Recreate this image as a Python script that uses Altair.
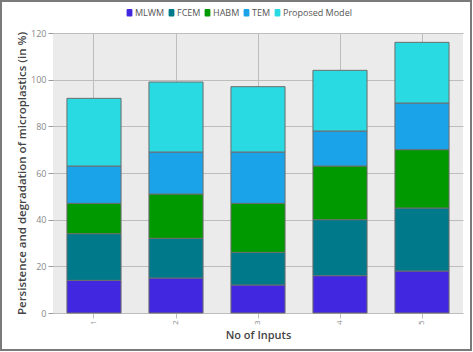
import altair as alt
import pandas as pd

inputs = ["1", "2", "3", "4", "5"]
series = ["MLWM", "FCEM", "HABM", "TEM", "Proposed Model"]
mlwm = [14, 15, 12, 16, 18]
fcem = [20, 17, 14, 24, 27]
habm = [13, 19, 21, 23, 25]
tem = [16, 18, 22, 15, 20]
proposed = [29, 30, 28, 26, 26]
colors = ["#4127e0", "#007a8a", "#009900", "#1aa3e8", "#2adae2"]

rows = []
for s_i, (name, vals) in enumerate(zip(series, [mlwm, fcem, habm, tem, proposed])):
    for x, v in zip(inputs, vals):
        rows.append({"input": x, "series": name, "value": v, "order": s_i})
df = pd.DataFrame(rows)

font = "Open Sans"
rounded = "M-0.45,-1H0.45Q0.75,-1,0.75,-0.7V0.7Q0.75,1,0.45,1H-0.45Q-0.75,1,-0.75,0.7V-0.7Q-0.75,-1,-0.45,-1Z"

bars = alt.Chart(df).mark_bar(stroke="#6e6e6e", strokeWidth=1).encode(
    x=alt.X("input:N", sort=inputs, title="No of Inputs",
            scale=alt.Scale(paddingInner=0.34, paddingOuter=0.17),
            axis=alt.Axis(labelAngle=-90, labelFontSize=8, labelColor="#888",
                          titleFontSize=11, titleColor="#444", titleFontWeight=600,
                          grid=True, gridColor="#bdbdbd", tickColor="#bdbdbd",
                          domain=False, titlePadding=5)),
    y=alt.Y("value:Q", stack="zero", title="Persistence and degradation of microplastics (in %)",
            scale=alt.Scale(domain=[0, 120]),
            axis=alt.Axis(values=[0, 20, 40, 60, 80, 100, 120], labelFontSize=9, labelColor="#888",
                          titleFontSize=11.5, titleColor="#444", titleFontWeight=600,
                          gridColor="#bdbdbd", tickColor="#999", domain=False, titlePadding=3)),
    color=alt.Color("series:N", sort=series, scale=alt.Scale(domain=series, range=colors),
                    legend=alt.Legend(title=None, orient="none", direction="horizontal",
                                      legendX=72, legendY=-25, symbolType=rounded,
                                      symbolSize=60, symbolStrokeWidth=0, labelFontSize=9,
                                      labelColor="#555", columnPadding=2, symbolOffset=0,
                                      labelOffset=1)),
    order=alt.Order("order:Q"),
)

frame = alt.Chart(pd.DataFrame({"a": [0]})).mark_rect(
    fill=None, stroke="#7a7a7a", strokeWidth=2, clip=False
).encode(
    x=alt.value(-52), x2=alt.value(418), y=alt.value(-32), y2=alt.value(317)
)

chart = alt.layer(bars, frame).properties(
    width=410, height=280,
    autosize=alt.AutoSizeParams(type="none"),
    padding={"left": 53, "top": 33, "right": 10, "bottom": 39},
).configure(font=font, background="white").configure_view(
    fill="#ebebeb", stroke=None
)

chart.save("out.html", embed_options={"renderer": "svg", "actions": False})
